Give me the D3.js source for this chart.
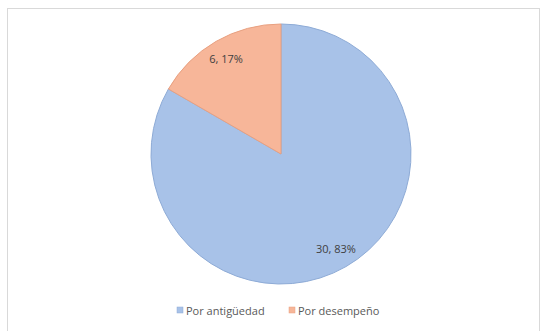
<!DOCTYPE html>
<html><head><meta charset="utf-8">
<script src="https://cdn.jsdelivr.net/npm/d3@7"></script>
<style>body{margin:0;background:#fff;}</style>
</head><body>
<svg id="c" width="544" height="331"></svg>
<script>
const categories = ["Por antigüedad", "Por desempeño"];
const values = [30, 6];
const percents = ["83%", "17%"];
const colors = ["#a8c2e8", "#f7b699"];
const strokes = ["#8eabd6", "#e8a080"];

const svg = d3.select("#c");
svg.append("rect").attr("x", 7.5).attr("y", 8.5).attr("width", 532).attr("height", 330)
  .attr("fill", "#fff").attr("stroke", "#d9d9d9");

const cx = 281, cy = 154, r = 130;
const pie = d3.pie().sort(null).value(d => d)(values);
const arc = d3.arc().innerRadius(0).outerRadius(r);
const g = svg.append("g").attr("transform", `translate(${cx},${cy})`);
g.selectAll("path").data(pie).join("path")
  .attr("d", arc).attr("fill", (d, i) => colors[i])
  .attr("stroke", (d, i) => strokes[i]).attr("stroke-width", 1);

const labelArc = d3.arc().innerRadius(r * 0.845).outerRadius(r * 0.845);
g.selectAll("text").data(pie).join("text")
  .attr("transform", d => { const c = labelArc.centroid(d); return `translate(${c[0]},${c[1]})`; })
  .attr("text-anchor", "middle").attr("dy", "0.35em")
  .attr("font-family", "'Open Sans', sans-serif").attr("font-size", 11)
  .attr("fill", "#404040")
  .text((d, i) => `${values[i]}, ${percents[i]}`);

const legend = svg.append("g").attr("font-family", "'Open Sans', sans-serif").attr("font-size", 11).attr("fill", "#595959");
const lx = [177, 289];
categories.forEach((c, i) => {
  legend.append("rect").attr("x", lx[i]).attr("y", 307).attr("width", 6).attr("height", 6).attr("fill", colors[i]).attr("stroke", strokes[i]).attr("stroke-width", 0.5);
  legend.append("text").attr("x", lx[i] + 9).attr("y", 314.5).text(c);
});
</script>
</body></html>
